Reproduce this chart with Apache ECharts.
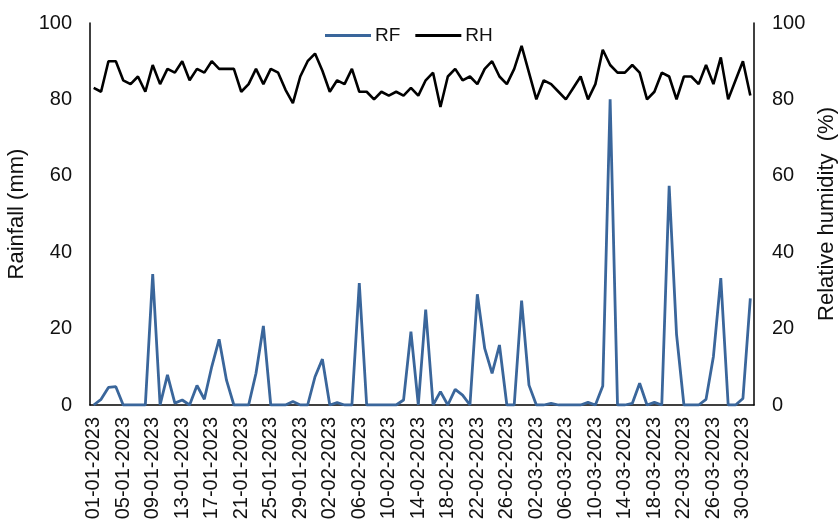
<!DOCTYPE html>
<html>
<head>
<meta charset="utf-8">
<script src="https://cdn.jsdelivr.net/npm/echarts@6/dist/echarts.min.js"></script>
<style>
  html, body { margin: 0; padding: 0; background: #fff; }
  #chart { width: 839px; height: 524px; }
</style>
</head>
<body>
<div id="chart"></div>
<script>
// daily dates 01-01-2023 .. 31-03-2023
const startDate = new Date(2023, 0, 1);
const dayCount = 90;
const dates = [];
for (let i = 0; i < dayCount; i++) {
  const d = new Date(startDate.getTime() + i * 24 * 3600 * 1000);
  const dd = String(d.getDate()).padStart(2, '0');
  const mm = String(d.getMonth() + 1).padStart(2, '0');
  dates.push(dd + '-' + mm + '-' + d.getFullYear());
}

// rainfall (mm)
const rf = [
  0, 1.5, 4.6, 4.8, 0, 0, 0, 0, 34.3, 0,
  7.9, 0.5, 1.3, 0, 5.1, 1.5, 10, 17.2, 6.5, 0,
  0, 0, 8.3, 20.7, 0, 0, 0, 0.9, 0, 0,
  7.4, 12, 0, 0.6, 0, 0, 31.9, 0, 0, 0,
  0, 0, 1.3, 19.2, 0, 25, 0, 3.5, 0, 4.1,
  2.6, 0, 29, 14.8, 8.3, 15.7, 0, 0, 27.3, 5.2,
  0, 0, 0.4, 0, 0, 0, 0, 0.7, 0, 5,
  80, 0, 0, 0.4, 5.7, 0, 0.7, 0, 57.4, 18.5,
  0, 0, 0, 1.5, 12.7, 33.2, 0, 0, 1.7, 27.9
];

// relative humidity (%)
const rh = [
  83, 82, 90, 90, 85, 84, 86, 82, 89, 84,
  88, 87, 90, 85, 88, 87, 90, 88, 88, 88,
  82, 84, 88, 84, 88, 87, 82.5, 79, 86, 90,
  92, 87.5, 82, 85, 84, 88, 82, 82, 80, 82,
  81, 82, 81, 83, 81, 85, 87, 78, 86, 88,
  85, 86, 84, 88, 90, 86, 84, 88, 94, 87,
  80, 85, 84, 82, 80, 83, 86, 80, 84, 93,
  89, 87, 87, 89, 87, 80, 82, 87, 86, 80,
  86, 86, 84, 89, 84, 91, 80, 85, 90, 81
];

const tickFont = { fontFamily: 'Liberation Sans, Arial, sans-serif', fontSize: 20, color: '#111' };
const nameFont = { fontFamily: 'Liberation Sans, Arial, sans-serif', fontSize: 22, color: '#111' };

const myChart = echarts.init(document.getElementById('chart'));
const option = {
  animation: false,
  textStyle: { fontFamily: 'Liberation Sans, Arial, sans-serif' },
  legend: {
    top: 21,
    left: 320,
    itemWidth: 46,
    itemHeight: 3,
    itemGap: 15,
    icon: 'rect',
    textStyle: { fontSize: 19, color: '#111', padding: [0, 0, 0, -1] },
    data: ['RF', 'RH']
  },
  grid: { left: 90, right: 85, top: 23, bottom: 119, containLabel: false, outerBoundsMode: 'none' },
  xAxis: {
    type: 'category',
    data: dates,
    boundaryGap: true,
    axisLine: { lineStyle: { color: '#000', width: 1.5 } },
    axisTick: { show: false },
    axisLabel: Object.assign({ rotate: 90, interval: 3, margin: 12 }, tickFont),
    splitLine: { show: false }
  },
  yAxis: [
    {
      type: 'value',
      min: 0, max: 100, interval: 20,
      name: 'Rainfall (mm)',
      nameLocation: 'middle',
      nameGap: 58,
      nameTextStyle: nameFont,
      axisLine: { show: true, lineStyle: { color: '#000', width: 1.5 } },
      axisTick: { show: false },
      axisLabel: Object.assign({ margin: 18 }, tickFont),
      splitLine: { show: false }
    },
    {
      type: 'value',
      min: 0, max: 100, interval: 20,
      name: 'Relative humidity  (%)',
      nameLocation: 'middle',
      nameGap: 62,
      nameTextStyle: nameFont,
      axisLine: { show: true, lineStyle: { color: '#000', width: 1.5 } },
      axisTick: { show: false },
      axisLabel: Object.assign({ margin: 18 }, tickFont),
      splitLine: { show: false }
    }
  ],
  series: [
    {
      name: 'RF',
      type: 'line',
      yAxisIndex: 0,
      data: rf,
      symbol: 'none',
      color: '#3A669B',
      lineStyle: { width: 2.8, color: '#3A669B' }
    },
    {
      name: 'RH',
      type: 'line',
      yAxisIndex: 1,
      data: rh,
      symbol: 'none',
      color: '#000',
      lineStyle: { width: 2.6, color: '#000' }
    }
  ]
};
myChart.setOption(option);
</script>
</body>
</html>
